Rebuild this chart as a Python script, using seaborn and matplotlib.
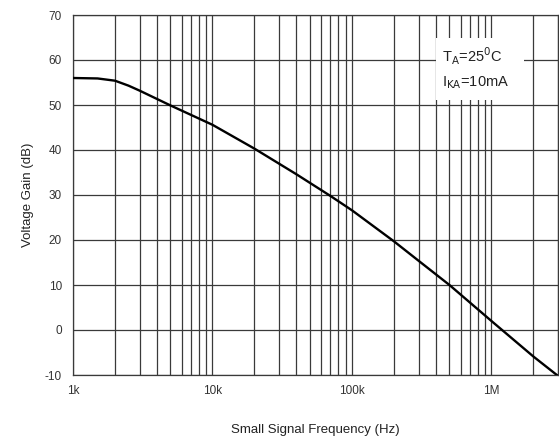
import matplotlib
matplotlib.use("Agg")
import matplotlib.pyplot as plt
import matplotlib.ticker as mticker
from matplotlib.patches import Rectangle
import seaborn as sns

# values
freq_hz = [1e3, 1.5e3, 2e3, 2.5e3, 3e3, 5e3, 1e4, 2e4, 4e4, 7e4, 1e5,
           2e5, 3e5, 5e5, 1e6, 2e6, 3e6]
gain_db = [56.0, 55.9, 55.4, 54.3, 53.2, 49.9, 45.6, 40.3, 34.6, 29.8, 26.6,
           19.7, 15.4, 10.0, 2.0, -5.9, -10.2]

x_ticks = [1e3, 1e4, 1e5, 1e6]
x_tick_labels = ["1k", "10k", "100k", "1M"]
y_ticks = [-10, 0, 10, 20, 30, 40, 50, 60, 70]

sns.set_style("white")
plt.rcParams["font.family"] = ["Liberation Sans", "DejaVu Sans"]
plt.rcParams["axes.unicode_minus"] = False

fig = plt.figure(figsize=(5.59, 4.41), dpi=100)
ax = fig.add_axes([73 / 559, 1 - 375 / 441, 485 / 559, 360 / 441])

grid_col = "#3a3a3a"
ax.set_xscale("log")
ax.set_xlim(1e3, 3e6)
ax.set_ylim(-10, 70)
ax.xaxis.set_major_locator(mticker.FixedLocator(x_ticks))
ax.xaxis.set_major_formatter(mticker.FixedFormatter(x_tick_labels))
ax.xaxis.set_minor_locator(mticker.LogLocator(base=10, subs=range(2, 10), numticks=20))
ax.xaxis.set_minor_formatter(mticker.NullFormatter())
ax.set_yticks(y_ticks)
ax.grid(True, which="both", axis="x", color=grid_col, lw=0.9)
ax.grid(True, which="major", axis="y", color=grid_col, lw=0.9)
ax.set_axisbelow(True)

sns.lineplot(x=freq_hz, y=gain_db, color="black", lw=1.7, ax=ax, zorder=5)

# white box behind the condition note
ax.add_patch(Rectangle((0.749, 0.764), 0.181, 0.172, transform=ax.transAxes,
                       facecolor="white", edgecolor="none", zorder=3))
ax.text(0.761, 0.885, r"T$_\mathrm{A}$=25$^\mathrm{0}$C", transform=ax.transAxes,
        fontsize=10.5, color="#222222", va="center", ha="left", zorder=6)
ax.text(0.761, 0.812, r"I$_\mathrm{KA}$=10mA", transform=ax.transAxes,
        fontsize=10.5, color="#222222", va="center", ha="left", zorder=6)

ax.tick_params(axis="both", which="both", length=0, labelsize=8.5, labelcolor="#333333")
ax.tick_params(axis="x", pad=7)
ax.tick_params(axis="y", pad=8)
for s in ax.spines.values():
    s.set_color(grid_col)
    s.set_linewidth(0.9)

ax.set_xlabel("Small Signal Frequency (Hz)", fontsize=9.5, color="#222222", labelpad=20)
ax.set_ylabel("Voltage Gain (dB)", fontsize=9.5, color="#222222", labelpad=8)

fig.savefig("out.png", dpi=100)
